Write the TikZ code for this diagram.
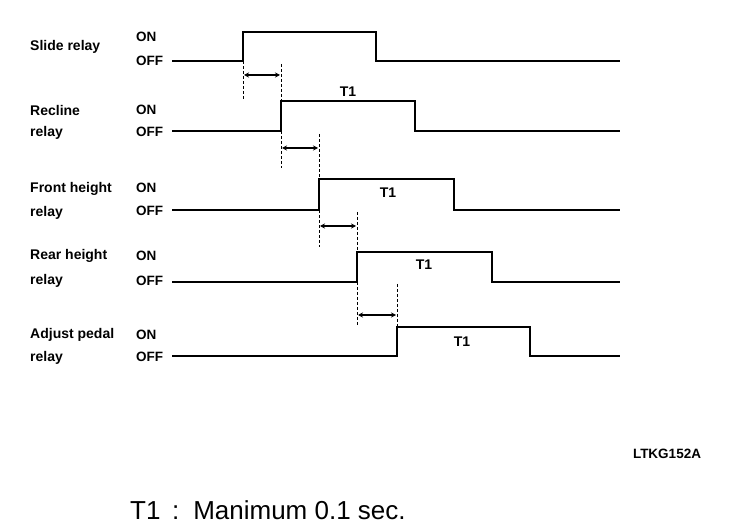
\documentclass[tikz,border=0pt]{standalone}
\usepackage{fontspec}
\setmainfont{Liberation Sans}
\usetikzlibrary{positioning,calc,arrows.meta}

\tikzset{
  relaylbl/.style={anchor=west,inner sep=0pt,font=\bfseries\fontsize{14}{16}\selectfont},
  statelbl/.style={anchor=west,inner sep=0pt,font=\bfseries\fontsize{13.5}{16}\selectfont},
  tlbl/.style={inner sep=0pt,font=\bfseries\fontsize{14}{16}\selectfont},
  wave/.style={line width=2.7pt,line join=miter},
  guide/.style={line width=1pt,dash pattern=on 3pt off 2pt},
  delay/.style={line width=2pt,{Stealth[length=5pt,width=5pt]}-{Stealth[length=5pt,width=5pt]}}
}

\begin{document}
\begin{tikzpicture}[x=1pt,y=-1pt]
	\useasboundingbox (0,0) rectangle (736,526);
	
	% labels
	\node[relaylbl] (slide) at (30,47) {Slide relay};
	\node[statelbl] (on1) at (136,37) {ON};
	\node[statelbl] (off1) at (136,61) {OFF};
	
	\node[relaylbl] (recl) at (30,110) {Recline};
	\node[relaylbl] (recl2) at (30,133) {relay};
	\node[statelbl] (on2) at (136,110) {ON};
	\node[statelbl] (off2) at (136,132) {OFF};
	
	\node[relaylbl] (front) at (30,189) {Front height};
	\node[relaylbl] (front2) at (30,213) {relay};
	\node[statelbl] (on3) at (136,188) {ON};
	\node[statelbl] (off3) at (136,211) {OFF};
	
	\node[relaylbl] (rear) at (30,256) {Rear height};
	\node[relaylbl] (rear2) at (30,281) {relay};
	\node[statelbl] (on4) at (136,256) {ON};
	\node[statelbl] (off4) at (136,281) {OFF};
	
	\node[relaylbl] (pedal) at (30,335) {Adjust pedal};
	\node[relaylbl] (pedal2) at (30,358) {relay};
	\node[statelbl] (on5) at (136,335) {ON};
	\node[statelbl] (off5) at (136,357) {OFF};
	
	% waveforms
	\draw[wave] (172,61) -- (243,61) -- (243,32) -- (376,32) -- (376,61) -- (620,61);
	\draw[wave] (172,131) -- (281,131) -- (281,101) -- (415,101) -- (415,131) -- (620,131);
	\draw[wave] (172,210) -- (319,210) -- (319,179) -- (454,179) -- (454,210) -- (620,210);
	\draw[wave] (172,282) -- (357,282) -- (357,252) -- (492,252) -- (492,282) -- (620,282);
	\draw[wave] (172,356) -- (397,356) -- (397,327) -- (530,327) -- (530,356) -- (620,356);
	
	\node[tlbl] (t2) at (348,92) {T1};
	\node[tlbl] (t3) at (388,193) {T1};
	\node[tlbl] (t4) at (424,265) {T1};
	\node[tlbl] (t5) at (462,342) {T1};
	
	% delays
	\draw[guide] (243,61) -- (243,100);
	\draw[guide] (281,64) -- (281,101);
	\draw[delay] (244,75) -- (280,75);
	
	\draw[guide] (281,131) -- (281,168);
	\draw[guide] (319,134) -- (319,179);
	\draw[delay] (282,148) -- (318,148);
	
	\draw[guide] (319,210) -- (319,247);
	\draw[guide] (357,212) -- (357,252);
	\draw[delay] (320,226) -- (356,226);
	
	\draw[guide] (357,282) -- (357,326);
	\draw[guide] (397,284) -- (397,327);
	\draw[delay] (358,315) -- (396,315);
	
	\node[inner sep=0pt,font=\bfseries\fontsize{13.5}{15}\selectfont] (code) at (667,454) {LTKG152A};
	\node[anchor=west,inner sep=0pt,font=\fontsize{26}{30}\selectfont] (note) at (130,510) {T1 \,:\, Manimum 0.1 sec.};
\end{tikzpicture}
\end{document}
